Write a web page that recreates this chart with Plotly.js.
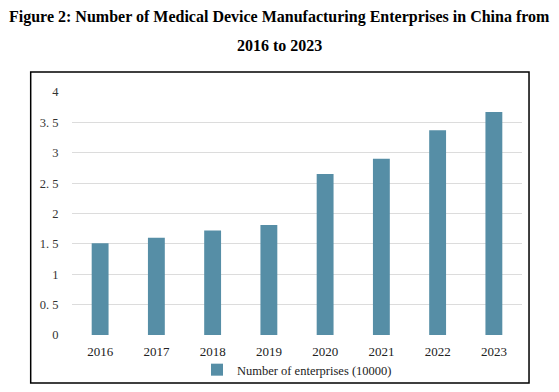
<!DOCTYPE html>
<html>
<head>
<meta charset="utf-8">
<script src="https://cdn.plot.ly/plotly-3.0.1.min.js"></script>
<style>html,body{margin:0;padding:0;background:#fff;}#chart{width:559px;height:392px;}</style>
</head>
<body>
<div id="chart"></div>
<script>
const years = ['2016','2017','2018','2019','2020','2021','2022','2023'];
const enterprises = [1.51, 1.60, 1.72, 1.81, 2.65, 2.90, 3.37, 3.67];
const yTickVals = [0, 0.5, 1, 1.5, 2, 2.5, 3, 3.5, 4];
const yTickText = ['0', '0. 5', '1', '1. 5', '2', '2. 5', '3', '3. 5', '4'];
const seriesName = 'Number of enterprises (10000)';
const titleLine1 = 'Figure 2: Number of Medical Device Manufacturing Enterprises in China from';
const titleLine2 = '2016 to 2023';

const trace = {
  type: 'bar',
  x: years,
  y: enterprises,
  name: seriesName,
  marker: {color: '#568ea6'},
  showlegend: true
};

const layout = {
  width: 559, height: 392,
  margin: {l: 72, r: 37, t: 92, b: 57, autoexpand: false},
  paper_bgcolor: '#fff', plot_bgcolor: '#fff',
  bargap: 0.7,
  font: {family: '"Liberation Serif", "Times New Roman", serif', color: '#333', size: 12},
  xaxis: {
    type: 'category',
    showgrid: false, zeroline: false, showline: false,
    ticks: 'outside', ticklen: 4, tickcolor: 'rgba(0,0,0,0)',
    tickfont: {size: 13, color: '#222'},
    fixedrange: true
  },
  yaxis: {
    range: [0, 4],
    tickvals: yTickVals, ticktext: yTickText,
    showgrid: true, gridcolor: '#dcdcdc', gridwidth: 1,
    zeroline: false, showline: false,
    ticks: 'outside', ticklen: 10, tickcolor: 'rgba(0,0,0,0)',
    tickfont: {size: 12.5, color: '#333'},
    fixedrange: true
  },
  legend: {
    orientation: 'h', x: 0.5, xanchor: 'center',
    yref: 'container', y: 0.056, yanchor: 'middle',
    bgcolor: 'rgba(0,0,0,0)', itemwidth: 30,
    font: {size: 12.5, color: '#222'}
  },
  shapes: [{
    type: 'rect', xref: 'paper', yref: 'paper',
    x0: -0.0918, x1: 1.0156, y0: -0.1975, y1: 1.0823,
    line: {color: '#000', width: 1.5}, fillcolor: 'rgba(0,0,0,0)'
  }],
  annotations: [
    {text: '<b>' + titleLine1 + '</b>', xref: 'paper', yref: 'paper', x: 0.462, y: 1.3086,
     xanchor: 'center', yanchor: 'middle', showarrow: false,
     font: {size: 16, color: '#000', family: '"Liberation Serif", "Times New Roman", serif'}},
    {text: '<b>' + titleLine2 + '</b>', xref: 'paper', yref: 'paper', x: 0.462, y: 1.193,
     xanchor: 'center', yanchor: 'middle', showarrow: false,
     font: {size: 16, color: '#000', family: '"Liberation Serif", "Times New Roman", serif'}}
  ]
};

Plotly.newPlot('chart', [trace], layout, {displayModeBar: false, staticPlot: true});
</script>
</body>
</html>
